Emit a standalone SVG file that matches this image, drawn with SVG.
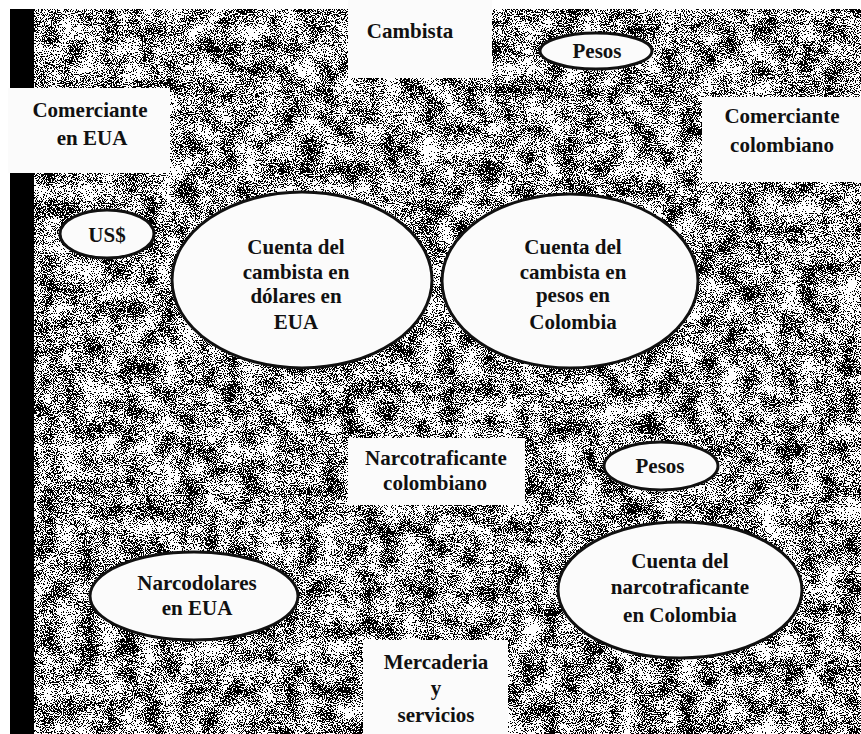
<svg xmlns="http://www.w3.org/2000/svg" width="861" height="734" viewBox="0 0 861 734">
<defs>
<filter id="granite" x="0" y="0" width="100%" height="100%" color-interpolation-filters="sRGB">
<feTurbulence type="fractalNoise" baseFrequency="0.9" numOctaves="2" seed="7" result="n1"/>
<feTurbulence type="fractalNoise" baseFrequency="0.05" numOctaves="3" seed="3" result="n2"/>
<feColorMatrix in="n1" type="matrix" values="0 0 0 0 0  0 0 0 0 0  0 0 0 0 0  1 0 0 0 0" result="a1"/>
<feColorMatrix in="n2" type="matrix" values="0 0 0 0 0  0 0 0 0 0  0 0 0 0 0  1 0 0 0 0" result="a2"/>
<feComposite in="a1" in2="a2" operator="arithmetic" k1="0" k2="1" k3="0.45" k4="-0.2" result="mix"/>
<feComponentTransfer in="mix" result="bw">
<feFuncA type="discrete" tableValues="1 1 1 1 1 0 0 0 0 0"/>
</feComponentTransfer>
<feFlood flood-color="#000"/>
<feComposite in2="bw" operator="in"/>
</filter>
<style>
.t{font-family:'Liberation Serif','Times New Roman',serif;font-size:21px;font-weight:bold;fill:#111;text-anchor:middle}
.box{fill:#fbfbfb}
.ell{fill:#fbfbfb;stroke:#111;stroke-width:3}
</style>
</defs>
<rect width="861" height="734" fill="#fff"/>
<g id="background">
<rect x="10" y="9" width="851" height="725" fill="#fff"/>
<rect x="10" y="9" width="851" height="725" filter="url(#granite)"/>
<rect x="10" y="9" width="24" height="725" fill="#000"/>
</g>
<g id="connectors"/>
<g id="cambista"><rect class="box" x="348" y="0" width="144" height="78"/><text class="t" x="410" y="38">Cambista</text></g>
<g id="pesos-top"><ellipse class="ell" cx="596" cy="51" rx="56" ry="18"/><text class="t" x="597" y="58">Pesos</text></g>
<g id="comerciante-eua"><rect class="box" x="8" y="88" width="162" height="85"/><text class="t" x="90" y="117">Comerciante</text><text class="t" x="92" y="145">en EUA</text></g>
<g id="comerciante-col"><rect class="box" x="702" y="97" width="159" height="85"/><text class="t" x="782" y="123">Comerciante</text><text class="t" x="782" y="152">colombiano</text></g>
<g id="usd"><ellipse class="ell" cx="107" cy="234" rx="47" ry="24"/><text class="t" x="107" y="242">US$</text></g>
<g id="cuenta-dolares"><ellipse class="ell" cx="302" cy="280" rx="130" ry="88"/><text class="t" x="296" y="254">Cuenta del</text><text class="t" x="296" y="279">cambista en</text><text class="t" x="296" y="303">dólares en</text><text class="t" x="296" y="329">EUA</text></g>
<g id="cuenta-pesos"><ellipse class="ell" cx="570" cy="281" rx="128" ry="87"/><text class="t" x="573" y="254">Cuenta del</text><text class="t" x="573" y="279">cambista en</text><text class="t" x="573" y="302">pesos  en</text><text class="t" x="573" y="329">Colombia</text></g>
<g id="narcotraficante"><rect class="box" x="348" y="438" width="177" height="67"/><text class="t" x="436" y="465">Narcotraficante</text><text class="t" x="435" y="490">colombiano</text></g>
<g id="pesos-bottom"><ellipse class="ell" cx="661" cy="466" rx="57" ry="24"/><text class="t" x="660" y="473">Pesos</text></g>
<g id="cuenta-narco"><ellipse class="ell" cx="680" cy="590" rx="122" ry="68"/><text class="t" x="680" y="568">Cuenta del</text><text class="t" x="680" y="594">narcotraficante</text><text class="t" x="680" y="622">en Colombia</text></g>
<g id="narcodolares"><ellipse class="ell" cx="194" cy="596" rx="104" ry="44"/><text class="t" x="197" y="590">Narcodolares</text><text class="t" x="197" y="615">en EUA</text></g>
<g id="mercaderia"><rect class="box" x="363" y="640" width="145" height="94"/><text class="t" x="436" y="669">Mercaderia</text><text class="t" x="436" y="695">y</text><text class="t" x="436" y="722">servicios</text></g>
</svg>
